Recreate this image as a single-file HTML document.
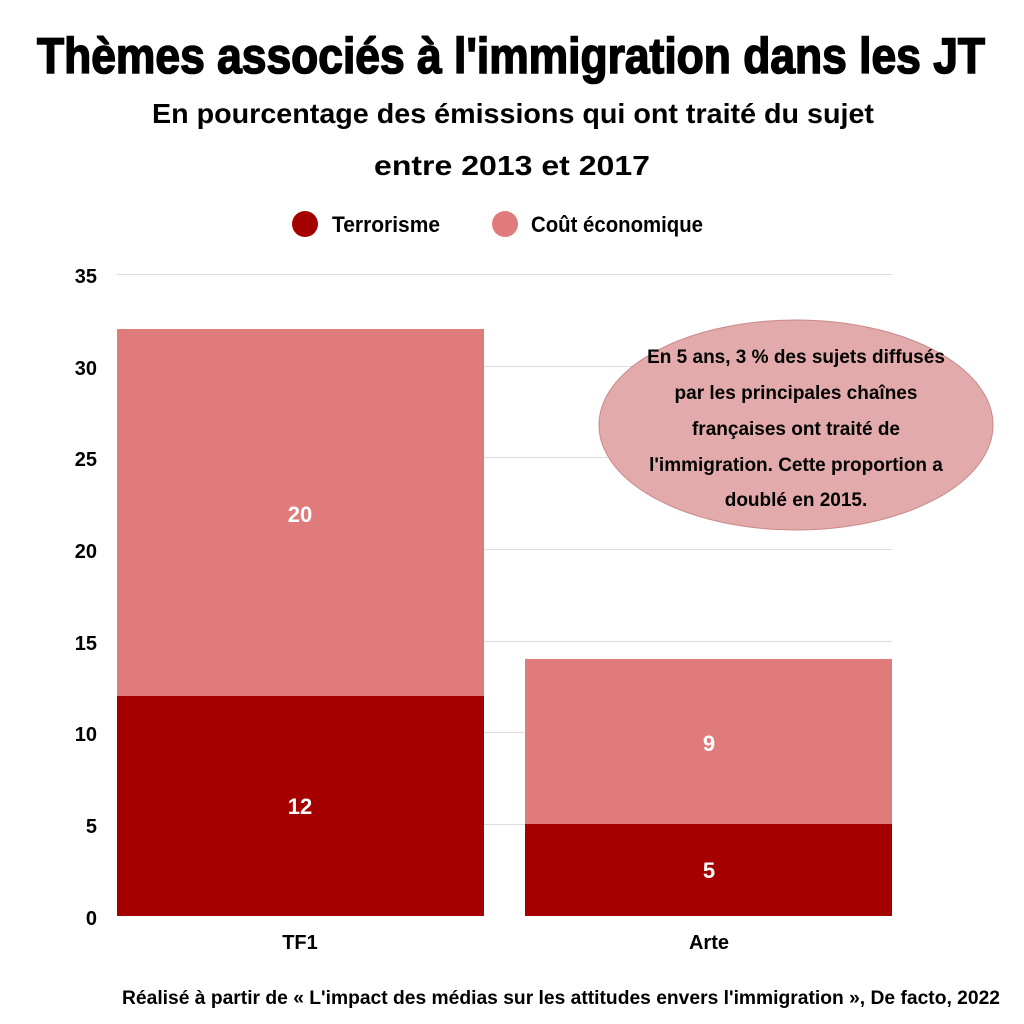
<!DOCTYPE html>
<html><head><meta charset="utf-8"><style>
html,body{margin:0;padding:0;background:#fff;}
svg{display:block;}
text{font-family:"Liberation Sans Narrow","Liberation Sans",sans-serif;font-weight:bold;fill:#000;}
</style></head><body>
<svg width="1024" height="1024" viewBox="0 0 1024 1024" xmlns="http://www.w3.org/2000/svg">
<rect width="1024" height="1024" fill="#fff"/>
<text x="37" y="73" font-size="50" textLength="948" lengthAdjust="spacingAndGlyphs" stroke="#000" stroke-width="1.6">Thèmes associés à l'immigration dans les JT</text>
<text x="152" y="123" font-size="28" textLength="722" lengthAdjust="spacingAndGlyphs">En pourcentage des émissions qui ont traité du sujet</text>
<text x="374" y="175" font-size="28" textLength="276" lengthAdjust="spacingAndGlyphs">entre 2013 et 2017</text>
<circle cx="305" cy="224" r="13" fill="#a50000"/>
<text x="332" y="232" font-size="22" textLength="108" lengthAdjust="spacingAndGlyphs">Terrorisme</text>
<circle cx="505" cy="224" r="13" fill="#e07b7b"/>
<text x="531" y="232" font-size="22" textLength="172" lengthAdjust="spacingAndGlyphs">Coût économique</text>
<g stroke="#dcdcdc" stroke-width="1">
<line x1="117" x2="892" y1="274.5" y2="274.5"/>
<line x1="117" x2="892" y1="366.5" y2="366.5"/>
<line x1="117" x2="892" y1="457.5" y2="457.5"/>
<line x1="117" x2="892" y1="549.5" y2="549.5"/>
<line x1="117" x2="892" y1="641.5" y2="641.5"/>
<line x1="117" x2="892" y1="732.5" y2="732.5"/>
<line x1="117" x2="892" y1="824.5" y2="824.5"/>
</g>
<g font-size="20" text-anchor="end">
<text x="97" y="283">35</text><text x="97" y="375">30</text><text x="97" y="466">25</text>
<text x="97" y="558">20</text><text x="97" y="650">15</text><text x="97" y="741">10</text>
<text x="97" y="833">5</text><text x="97" y="925">0</text>
</g>
<rect x="117" y="329" width="367" height="367" fill="#e07b7b"/>
<rect x="117" y="696" width="367" height="220" fill="#a50000"/>
<rect x="525" y="659" width="367" height="165" fill="#e07b7b"/>
<rect x="525" y="824" width="367" height="92" fill="#a50000"/>
<g font-size="22" text-anchor="middle">
<text x="300" y="522" style="fill:#fff">20</text>
<text x="300" y="814" style="fill:#fff">12</text>
<text x="709" y="751" style="fill:#fff">9</text>
<text x="709" y="878" style="fill:#fff">5</text>
</g>
<g font-size="20" text-anchor="middle">
<text x="300" y="949">TF1</text><text x="709" y="949">Arte</text>
</g>
<ellipse cx="796" cy="425" rx="197" ry="105" fill="#e2aaaa" stroke="#c98a8a" stroke-width="1"/>
<g font-size="19" text-anchor="middle">
<text x="796" y="363">En 5 ans, 3 % des sujets diffusés</text>
<text x="796" y="399">par les principales chaînes</text>
<text x="796" y="435">françaises ont traité de</text>
<text x="796" y="471">l'immigration. Cette proportion a</text>
<text x="796" y="506">doublé en 2015.</text>
</g>
<text x="122" y="1004" font-size="19" textLength="878" lengthAdjust="spacingAndGlyphs">Réalisé à partir de « L'impact des médias sur les attitudes envers l'immigration », De facto, 2022</text>
</svg>
</body></html>
